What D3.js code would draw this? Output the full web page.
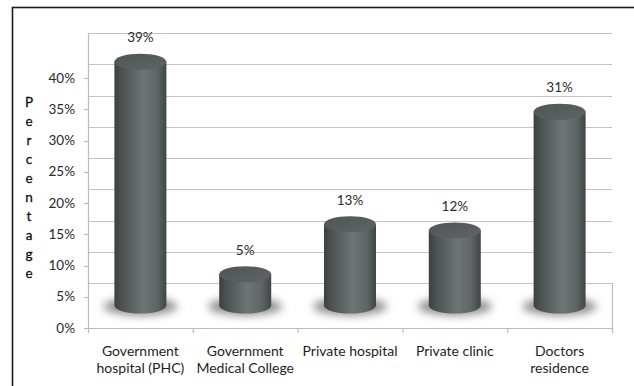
<!DOCTYPE html>
<html><head><meta charset="utf-8">
<script src="https://cdn.jsdelivr.net/npm/d3@7"></script>
<style>body{margin:0;background:#fff}svg{display:block}text{font-family:Lato,"Open Sans",sans-serif}</style>
</head><body><svg id="c" width="634" height="386"></svg>
<script>
const categories = [["Government","hospital (PHC)"],["Government","Medical College"],["Private hospital"],["Private clinic"],["Doctors","residence"]];
const values = [39, 5, 13, 12, 31];
const valueLabels = ["39%","5%","13%","12%","31%"];
const yTicks = [0,5,10,15,20,25,30,35,40];
const yTitle = "Percentage";

const svg = d3.select("#c");
const defs = svg.append("defs");
const L = 88, R = 612, front0 = 328, depth = 45;
const x = d3.scaleBand().domain(d3.range(values.length)).range([L, R]).paddingInner(0);
const yF = d3.scaleLinear().domain([0, 40]).range([front0, front0 - 250]);
const yB = d3.scaleLinear().domain([0, 40]).range([front0 - depth, front0 - depth - 250]);
const yM = d3.scaleLinear().domain([0, 40]).range([front0 - depth/2, front0 - depth/2 - 250]);

svg.append("rect").attr("width",634).attr("height",386).attr("fill","#fff");
svg.append("rect").attr("x",12.5).attr("y",7.5).attr("width",700).attr("height",500)
  .attr("fill","none").attr("stroke","#1a1a1a").attr("stroke-width",1.6);

svg.append("g").selectAll("line").data(yTicks).join("line")
  .attr("x1",L).attr("x2",R).attr("y1",d=>Math.round(yB(d))+0.5).attr("y2",d=>Math.round(yB(d))+0.5)
  .attr("stroke","#c4c4c4").attr("stroke-width",1.2);
svg.append("line").attr("x1",L+0.5).attr("x2",L+0.5).attr("y1",yB(40)).attr("y2",front0)
  .attr("stroke","#bdbdbd").attr("stroke-width",1.2);
svg.append("line").attr("x1",R+0.5).attr("x2",R+0.5).attr("y1",yB(0)).attr("y2",front0+5)
  .attr("stroke","#bdbdbd").attr("stroke-width",1.2);
svg.append("line").attr("x1",L).attr("x2",R).attr("y1",front0+0.5).attr("y2",front0+0.5)
  .attr("stroke","#bdbdbd").attr("stroke-width",1.2);
svg.append("g").selectAll("line").data(d3.range(values.length+1)).join("line")
  .attr("x1",d=>L + d*x.bandwidth()+0.5).attr("x2",d=>L + d*x.bandwidth()+0.5)
  .attr("y1",front0).attr("y2",front0+5).attr("stroke","#bdbdbd").attr("stroke-width",1.2);
const yAxis = svg.append("g");
yAxis.selectAll("line").data(yTicks).join("line")
  .attr("x1",L-4).attr("x2",L).attr("y1",d=>Math.round(yF(d))+0.5).attr("y2",d=>Math.round(yF(d))+0.5)
  .attr("stroke","#bdbdbd").attr("stroke-width",1.2);
yAxis.selectAll("text").data(yTicks).join("text")
  .attr("x",75).attr("y",d=>yF(d)).attr("dy","0.35em").attr("text-anchor","end")
  .attr("font-size",13.5).attr("fill","#2a2a2a").text(d=>d+"%");

svg.append("g").selectAll("text").data(yTitle.split("")).join("text")
  .attr("x",29).attr("y",(d,i)=>102 + i*19).attr("dy","0.35em").attr("text-anchor","middle")
  .attr("font-size",13.5).attr("fill","#111").attr("stroke","#111").attr("stroke-width",0.3).text(d=>d);

const g1 = defs.append("linearGradient").attr("id","body").attr("x1","0").attr("x2","1").attr("y1","0").attr("y2","0");
[[0,"#3b4141"],[0.12,"#4a5050"],[0.55,"#6f7474"],[0.82,"#5f6565"],[1,"#404646"]]
  .forEach(s=>g1.append("stop").attr("offset",s[0]).attr("stop-color",s[1]));
const g2 = defs.append("linearGradient").attr("id","top").attr("x1","0").attr("x2","1").attr("y1","0").attr("y2","1");
[[0,"#4f5555"],[1,"#5f6565"]].forEach(s=>g2.append("stop").attr("offset",s[0]).attr("stop-color",s[1]));
defs.append("filter").attr("id","blur").attr("x","-50%").attr("y","-100%").attr("width","200%").attr("height","300%")
  .append("feGaussianBlur").attr("stdDeviation",4);

const rx = 26, ry = 8;
const cyl = svg.append("g").selectAll("g").data(values).join("g");
cyl.append("ellipse").attr("cx",(d,i)=>x(i)+x.bandwidth()/2).attr("cy",yM(0)+1)
  .attr("rx",37).attr("ry",9).attr("fill","#8f8f8f").attr("filter","url(#blur)");
cyl.append("path").attr("d",(d,i)=>{
  const cx = x(i)+x.bandwidth()/2, t = yM(d), b = yM(0);
  return `M${cx-rx},${t} L${cx-rx},${b} A${rx},${ry} 0 0 0 ${cx+rx},${b} L${cx+rx},${t} Z`;
}).attr("fill","url(#body)");
cyl.append("ellipse").attr("cx",(d,i)=>x(i)+x.bandwidth()/2).attr("cy",d=>yM(d))
  .attr("rx",rx).attr("ry",ry).attr("fill","url(#top)");
cyl.append("text").attr("x",(d,i)=>x(i)+x.bandwidth()/2).attr("y",d=>yM(d)-24)
  .attr("dy","0.35em").attr("text-anchor","middle").attr("font-size",13.5).attr("fill","#2a2a2a")
  .text((d,i)=>valueLabels[i]);

const cl = svg.append("g").selectAll("text").data(categories).join("text")
  .attr("x",(d,i)=>x(i)+x.bandwidth()/2).attr("y",351).attr("text-anchor","middle")
  .attr("font-size",14).attr("fill","#1e1e1e");
cl.selectAll("tspan").data(d=>d).join("tspan")
  .attr("x",function(){return this.parentNode.getAttribute("x");})
  .attr("dy",(d,i)=>i===0?"0.35em":"17").text(d=>d);
</script></body></html>
